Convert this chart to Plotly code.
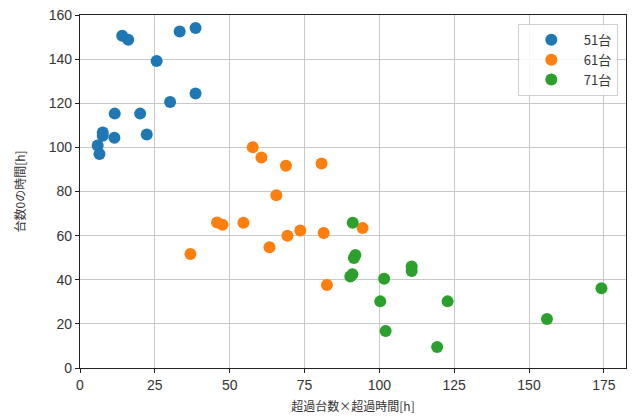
import plotly.graph_objects as go

FONT = "Noto Sans CJK JP"
TICKFONT = "Liberation Sans"

series_names = ["51台", "61台", "71台"]
colors = ["#1f77b4", "#ff7f0e", "#2ca02c"]

x51 = [5.9, 6.5, 7.6, 7.6, 11.5, 11.6, 14.1, 16.1, 20.1, 22.3, 25.6, 30.1, 33.3, 38.6, 38.6]
y51 = [100.8, 97.0, 106.7, 105.3, 104.4, 115.3, 150.6, 148.8, 115.3, 105.8, 139.2, 120.6, 152.5, 154.1, 124.4]

x61 = [36.9, 45.8, 47.6, 54.6, 57.7, 60.6, 63.3, 65.6, 68.8, 69.3, 73.6, 80.7, 81.4, 82.5, 94.4]
y61 = [51.7, 65.9, 64.9, 65.8, 100.1, 95.4, 54.7, 78.3, 91.7, 59.9, 62.3, 92.7, 61.2, 37.6, 63.5]

x71 = [91.1, 92.0, 91.5, 90.3, 91.0, 101.6, 110.8, 110.8, 100.3, 122.8, 102.1, 119.3, 156.0, 174.2]
y71 = [65.8, 51.2, 49.9, 41.5, 42.5, 40.5, 44.0, 46.0, 30.2, 30.2, 16.8, 9.5, 22.2, 36.1]

x_ticks = [0, 25, 50, 75, 100, 125, 150, 175]
y_ticks = [0, 20, 40, 60, 80, 100, 120, 140, 160]

fig = go.Figure()
for name, xs, ys, c in zip(series_names, [x51, x61, x71], [y51, y61, y71], colors):
    fig.add_trace(go.Scatter(x=xs, y=ys, mode="markers", name=name,
                             marker=dict(color=c, size=12, line=dict(width=0))))

axis_common = dict(showline=True, linecolor="#222222", linewidth=1.2, mirror=True,
                   ticks="outside", ticklen=4, tickcolor="#222222",
                   showgrid=True, gridcolor="#c8c8c8", gridwidth=1.2, zeroline=False,
                   tickfont=dict(family=TICKFONT, size=14, color="#333333"))

fig.update_layout(
    width=632, height=419,
    margin=dict(l=80, r=6, t=15, b=51),
    paper_bgcolor="white", plot_bgcolor="white",
    font=dict(family=FONT, color="#333333"),
    xaxis=dict(range=[0, 182.4], tickvals=x_ticks,
               title=dict(text="超過台数×超過時間[h]", font=dict(family=FONT, size=12, color="#333333"), standoff=10),
               **axis_common),
    yaxis=dict(range=[0, 160], tickvals=y_ticks,
               title=dict(text="台数0の時間[h]", font=dict(family=FONT, size=12, color="#333333"), standoff=20),
               **axis_common),
    legend=dict(x=0.985, y=0.975, xanchor="right", yanchor="top",
                bgcolor="rgba(255,255,255,0.85)", bordercolor="#d0d0d0", borderwidth=1,
                font=dict(family=FONT, size=13, color="#333333"), itemwidth=55,
                tracegroupgap=0),
    showlegend=True,
)

fig.write_html("out.html")
